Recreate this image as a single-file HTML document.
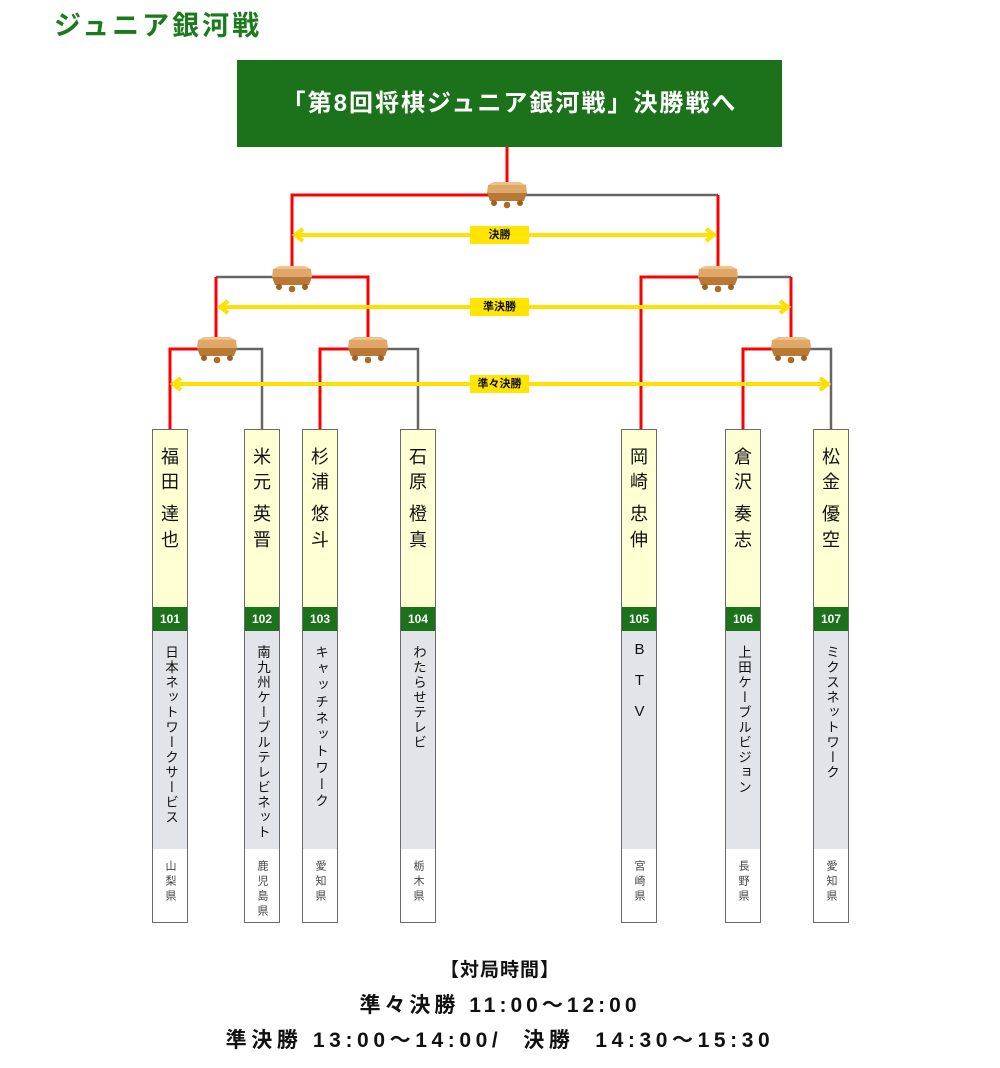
<!DOCTYPE html>
<html><head><meta charset="utf-8">
<style>
body{margin:0;width:1000px;height:1068px;background:#fff;position:relative;font-family:"Liberation Sans","Noto Sans CJK JP",sans-serif;overflow:hidden}
.abs{position:absolute}
.title{left:54px;top:4px;font-size:27px;font-weight:bold;color:#1b7a1c;letter-spacing:3px}
.banner{left:237px;top:60px;width:545px;height:87px;background:#1b721b;color:#fff;font-size:24px;font-weight:bold;text-align:center;line-height:87px;letter-spacing:2px}
.col{position:absolute;top:429px;width:34px;height:492px;border:1px solid #6a6a6a;background:#fff}
.nm{position:absolute;left:0;top:0;width:34px;height:177px;background:#ffffd4}
.nm span{position:absolute;left:0;width:34px;text-align:center;font-size:18px;color:#111;line-height:20px}
.num{position:absolute;left:0;top:177px;width:34px;height:24px;background:#1b721b;color:#fff;font-size:12px;font-weight:bold;text-align:center;line-height:24px}
.co{position:absolute;left:0;top:201px;width:34px;height:218px;background:#e2e4e9}
.co div{position:absolute;left:0;top:14px;width:34px;writing-mode:vertical-rl;text-orientation:upright;font-size:13.5px;line-height:34px;color:#111;letter-spacing:1.5px}
.pr{position:absolute;left:0;top:430px;width:34px;writing-mode:vertical-rl;text-orientation:upright;font-size:11px;line-height:34px;color:#444;letter-spacing:4px}
.lbl{position:absolute;background:#ffe500;font-size:11px;font-weight:bold;text-align:center;height:18px;line-height:18px;color:#111}
.times{left:0;width:1000px;text-align:center;font-weight:bold;color:#111;font-size:21px;white-space:pre}
</style></head><body>
<div class="abs title">ジュニア銀河戦</div>
<div class="abs banner">「第8回将棋ジュニア銀河戦」決勝戦へ</div>

<svg class="abs" style="left:0;top:0" width="1000" height="1068">
<defs>
<g id="bd">
<polygon points="-19,-8 19,-8 20,0 -20,0" fill="#e0a868"/>
<polygon points="-19,-8 -13,-11 13,-11 19,-8" fill="#eec38a"/>
<polygon points="-20,0 20,0 17,8 -17,8" fill="#b87836"/>
<circle cx="-13" cy="10" r="3" fill="#a06020"/>
<circle cx="13" cy="10" r="3" fill="#a06020"/>
<circle cx="0" cy="12" r="3.3" fill="#b06a28"/>
</g>
</defs>
<g fill="none" stroke-width="3">
<path d="M507 147 V195 H292 V270" stroke="#f00"/>
<path d="M507 195 H718" stroke="#666" stroke-width="2.5"/>
<path d="M718 195 V270" stroke="#f00"/>
<path d="M292 277 H216" stroke="#666" stroke-width="2.5"/>
<path d="M216 277 V340" stroke="#f00"/>
<path d="M292 277 H368 V340" stroke="#f00"/>
<path d="M216 349 H170 V429" stroke="#f00"/>
<path d="M216 349 H262 V429" stroke="#666" stroke-width="2.5"/>
<path d="M368 349 H320 V429" stroke="#f00"/>
<path d="M368 349 H418 V429" stroke="#666" stroke-width="2.5"/>
<path d="M718 277 H641 V429" stroke="#f00"/>
<path d="M718 277 H791" stroke="#666" stroke-width="2.5"/>
<path d="M791 277 V340" stroke="#f00"/>
<path d="M791 349 H743 V429" stroke="#f00"/>
<path d="M791 349 H831 V429" stroke="#666" stroke-width="2.5"/>
</g>
<g stroke="#ffe000" stroke-width="4">
<line x1="296" y1="235" x2="713" y2="235"/>
<line x1="221" y1="307" x2="787" y2="307"/>
<line x1="174" y1="384" x2="827" y2="384"/>
</g>
<g fill="none" stroke="#ffe000" stroke-width="4">
<polyline points="303,229 295,235 303,241"/><polyline points="706,229 714,235 706,241"/>
<polyline points="228,301 220,307 228,313"/><polyline points="780,301 788,307 780,313"/>
<polyline points="181,378 173,384 181,390"/><polyline points="820,378 828,384 820,390"/>
</g>
<use href="#bd" x="507" y="193"/>
<use href="#bd" x="292" y="277"/>
<use href="#bd" x="718" y="277"/>
<use href="#bd" x="217" y="348"/>
<use href="#bd" x="368" y="348"/>
<use href="#bd" x="791" y="348"/>
</svg>
<div class="lbl" style="left:470px;top:226px;width:59px">決勝</div>
<div class="lbl" style="left:470px;top:298px;width:59px">準決勝</div>
<div class="lbl" style="left:470px;top:375px;width:59px">準々決勝</div>

<div class="col" style="left:152px"><div class="nm"><span style="top:17px">福</span><span style="top:42px">田</span><span style="top:74px">達</span><span style="top:100px">也</span></div><div class="num">101</div><div class="co"><div>日本ネットワークサービス</div></div><div class="pr">山梨県</div></div>
<div class="col" style="left:244px"><div class="nm"><span style="top:17px">米</span><span style="top:42px">元</span><span style="top:74px">英</span><span style="top:100px">晋</span></div><div class="num">102</div><div class="co"><div>南九州ケーブルテレビネット</div></div><div class="pr">鹿児島県</div></div>
<div class="col" style="left:302px"><div class="nm"><span style="top:17px">杉</span><span style="top:42px">浦</span><span style="top:74px">悠</span><span style="top:100px">斗</span></div><div class="num">103</div><div class="co"><div style="letter-spacing:3px">キャッチネットワーク</div></div><div class="pr">愛知県</div></div>
<div class="col" style="left:400px"><div class="nm"><span style="top:17px">石</span><span style="top:42px">原</span><span style="top:74px">橙</span><span style="top:100px">真</span></div><div class="num">104</div><div class="co"><div>わたらせテレビ</div></div><div class="pr">栃木県</div></div>
<div class="col" style="left:621px"><div class="nm"><span style="top:17px">岡</span><span style="top:42px">崎</span><span style="top:74px">忠</span><span style="top:100px">伸</span></div><div class="num">105</div><div class="co"><div style="letter-spacing:14px;top:10px;font-size:15px">BTV</div></div><div class="pr">宮崎県</div></div>
<div class="col" style="left:725px"><div class="nm"><span style="top:17px">倉</span><span style="top:42px">沢</span><span style="top:74px">奏</span><span style="top:100px">志</span></div><div class="num">106</div><div class="co"><div>上田ケーブルビジョン</div></div><div class="pr">長野県</div></div>
<div class="col" style="left:813px"><div class="nm"><span style="top:17px">松</span><span style="top:42px">金</span><span style="top:74px">優</span><span style="top:100px">空</span></div><div class="num">107</div><div class="co"><div>ミクスネットワーク</div></div><div class="pr">愛知県</div></div>

<div class="abs times" style="top:955px;font-size:19px;letter-spacing:1px">【対局時間】</div>
<div class="abs times" style="top:989px;letter-spacing:4px">準々決勝 11:00～12:00</div>
<div class="abs times" style="top:1024px;letter-spacing:4.6px">準決勝 13:00～14:00/  決勝  14:30～15:30</div>
</body></html>
